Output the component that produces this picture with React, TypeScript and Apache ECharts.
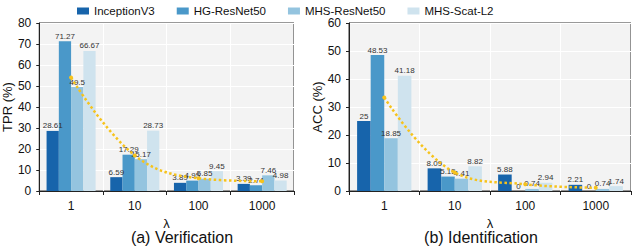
import React, { useEffect, useRef } from "react";
import * as echarts from "echarts";

const categories = ["1", "10", "100", "1000"];
const seriesNames = ["InceptionV3", "HG-ResNet50", "MHS-ResNet50", "MHS-Scat-L2"];
const colors = ["#1764ab", "#4a98c9", "#94c4df", "#cfe3ee"];

// (a) Verification TPR (%)
const verInception = [28.61, 6.59, 3.89, 3.39];
const verHG = [71.27, 17.29, 4.95, 2.74];
const verMHS = [49.5, 15.17, 5.85, 7.46];
const verScat = [66.67, 28.73, 9.45, 4.98];
const verTrend = [54.0, 16.95, 6.04, 4.64];

// (b) Identification ACC (%)
const idInception = [25, 8.09, 5.88, 2.21];
const idHG = [48.53, 5.15, 0, 0];
const idMHS = [18.85, 4.41, 0.74, 0.74];
const idScat = [41.18, 8.82, 2.94, 1.74];
const idTrend = [33.39, 6.62, 2.39, 1.17];

const verTicks = { min: 0, max: 80, interval: 10 };
const idTicks = { min: 0, max: 60, interval: 10 };

const FONT = "Liberation Sans";

export default function App() {
  const ref = useRef<HTMLDivElement>(null);
  useEffect(() => {
    document.body.style.margin = "0";
    const chart = echarts.init(ref.current!, null, { renderer: "svg" });
    const verData = [verInception, verHG, verMHS, verScat];
    const idData = [idInception, idHG, idMHS, idScat];

    const makeBars = (data: number[][], idx: number) =>
      data.map((d, i) => ({
        name: seriesNames[i],
        type: "bar",
        xAxisIndex: idx,
        yAxisIndex: idx,
        data: d,
        barGap: "0%",
        barCategoryGap: "23%",
        itemStyle: { color: colors[i] },
        label: {
          show: true,
          position: "top",
          distance: 1,
          fontSize: 8,
          fontFamily: FONT,
          color: "#333",
          formatter: (p: any) => String(p.value),
        },
        z: 2,
      }));

    const makeLine = (data: number[], idx: number) => ({
      name: "trend",
      type: "line",
      xAxisIndex: idx,
      yAxisIndex: idx,
      data,
      smooth: 0.4,
      symbol: "circle",
      symbolSize: 4,
      itemStyle: { color: "#f6c31c" },
      lineStyle: { color: "#f6c31c", width: 2.5, type: "dotted" },
      z: 5,
    });

    const xAxisBase = (gridIndex: number) => ({
      type: "category",
      gridIndex,
      data: categories,
      boundaryGap: true,
      name: "λ",
      nameLocation: "middle",
      nameGap: 14,
      nameTextStyle: { fontSize: 13, fontFamily: FONT, color: "#111" },
      axisLine: { show: true, lineStyle: { color: "#222", width: 1 } },
      axisTick: { show: true, alignWithLabel: false, length: 4, inside: false, lineStyle: { color: "#222" } },
      axisLabel: { fontSize: 12, fontFamily: FONT, color: "#111", margin: 9 },
      splitLine: { show: true, interval: 0, lineStyle: { color: "#ffffff", width: 1 } },
    });

    const yAxisBase = (gridIndex: number, name: string, t: any) => ({
      type: "value",
      gridIndex,
      min: t.min,
      max: t.max,
      interval: t.interval,
      name,
      nameLocation: "middle",
      nameGap: 21,
      nameTextStyle: { fontSize: 13, fontFamily: FONT, color: "#111" },
      axisLine: { show: true, lineStyle: { color: "#222", width: 1 } },
      axisTick: { show: true, length: 3, lineStyle: { color: "#222" } },
      axisLabel: { fontSize: 12, fontFamily: FONT, color: "#111", margin: 8 },
      splitLine: { show: true, lineStyle: { color: "#ffffff", width: 1 } },
    });

    chart.setOption({
      animation: false,
      textStyle: { fontFamily: FONT },
      legend: {
        data: seriesNames,
        top: 0,
        left: 72,
        itemWidth: 12,
        itemHeight: 7,
        itemGap: 22,
        icon: "rect",
        textStyle: { fontSize: 11.5, fontFamily: FONT, color: "#111" },
      },
      grid: [
        { left: 38, top: 23, width: 256, height: 168, show: true, backgroundColor: "#f3f3f3", borderColor: "#333", borderWidth: 1 },
        { left: 349, top: 23, width: 282, height: 168, show: true, backgroundColor: "#f3f3f3", borderColor: "#333", borderWidth: 1 },
      ],
      xAxis: [xAxisBase(0), xAxisBase(1)],
      yAxis: [yAxisBase(0, "TPR (%)", verTicks), yAxisBase(1, "ACC (%)", idTicks)],
      series: [...makeBars(verData, 0), makeLine(verTrend, 0), ...makeBars(idData, 1), makeLine(idTrend, 1)],
      graphic: [
        {
          type: "text",
          x: 182,
          y: 237,
          style: { text: "(a) Verification", fontSize: 16, fontFamily: FONT, fill: "#111", align: "center", verticalAlign: "middle" },
        },
        {
          type: "text",
          x: 481,
          y: 237,
          style: { text: "(b) Identification", fontSize: 16, fontFamily: FONT, fill: "#111", align: "center", verticalAlign: "middle" },
        },
      ],
    });
    return () => chart.dispose();
  }, []);
  return <div ref={ref} style={{ width: 634, height: 246 }} />;
}
